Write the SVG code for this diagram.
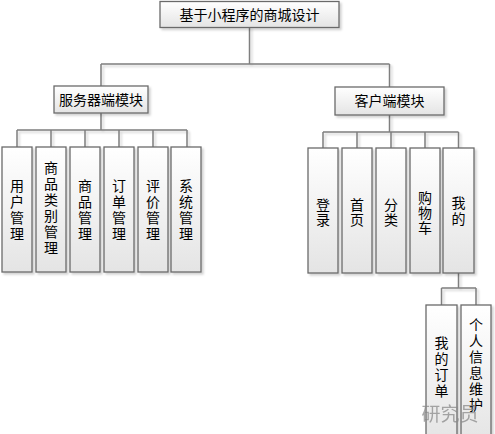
<svg xmlns="http://www.w3.org/2000/svg" width="495" height="434" viewBox="0 0 495 434">
<defs>
<linearGradient id="g" x1="0" y1="0" x2="0" y2="1">
<stop offset="0" stop-color="#ffffff"/>
<stop offset="1" stop-color="#e4e4e4"/>
</linearGradient>
<filter id="sh" x="-20%" y="-20%" width="150%" height="150%">
<feDropShadow dx="2" dy="2" stdDeviation="0.8" flood-color="#000" flood-opacity="0.18"/>
</filter>
</defs>
<style>
.box{fill:url(#g);stroke:#6a6a6a;stroke-width:1.3;filter:url(#sh)}
.ln{fill:none;stroke:#7f7f7f;stroke-width:1.5;filter:url(#sh)}
text{font-family:"Noto Sans CJK SC","Noto Sans CJK JP",sans-serif;font-size:14px;fill:#000;text-anchor:middle}
.v{writing-mode:vertical-rl;text-orientation:upright;letter-spacing:2px}
.vc{writing-mode:vertical-rl;text-orientation:upright;letter-spacing:1px}
.wm{font-size:19px;fill:#8a8a8a;opacity:0.75}
</style>
<rect width="495" height="434" fill="#ffffff"/>
<g id="connectors">
<path class="ln" d="M249.5 27V64M101 64H389.5M101 64V86M389.5 64V87"/>
<path class="ln" d="M101 113V130M17 130H187M17 130V147M51 130V147M85 130V147M119 130V147M153 130V147M187 130V147"/>
<path class="ln" d="M389.5 115V132M323 132H458.5M323 132V148M357 132V148M391 132V148M425 132V148M458.5 132V148"/>
<path class="ln" d="M458.5 273V288M441.5 288H476M441.5 288V305M476 288V305"/>
</g>
<g id="root"><rect class="box" x="160" y="1.5" width="179" height="26"/><text x="249.5" y="19.5">基于小程序的商城设计</text></g>
<g id="server"><rect class="box" x="54" y="86" width="94" height="27"/><text x="101" y="104.5">服务器端模块</text></g>
<g id="client"><rect class="box" x="335" y="87" width="109" height="28"/><text x="389.5" y="106">客户端模块</text></g>
<g id="s1"><rect class="box" x="2" y="147" width="30" height="125"/><text class="v" x="17" y="211">用户管理</text></g>
<g id="s2"><rect class="box" x="36" y="147" width="30" height="125"/><text class="v" x="51" y="209">商品类别管理</text></g>
<g id="s3"><rect class="box" x="70" y="147" width="30" height="125"/><text class="v" x="85" y="211">商品管理</text></g>
<g id="s4"><rect class="box" x="104" y="147" width="30" height="125"/><text class="v" x="119" y="211">订单管理</text></g>
<g id="s5"><rect class="box" x="138" y="147" width="30" height="125"/><text class="v" x="153" y="211">评价管理</text></g>
<g id="s6"><rect class="box" x="171" y="147" width="30" height="125"/><text class="v" x="186" y="211">系统管理</text></g>
<g id="c1"><rect class="box" x="308" y="148" width="30" height="125"/><text class="vc" x="323" y="213">登录</text></g>
<g id="c2"><rect class="box" x="342" y="148" width="30" height="125"/><text class="vc" x="357" y="213">首页</text></g>
<g id="c3"><rect class="box" x="376" y="148" width="30" height="125"/><text class="vc" x="391" y="213">分类</text></g>
<g id="c4"><rect class="box" x="410" y="148" width="30" height="125"/><text class="vc" x="425" y="213">购物车</text></g>
<g id="c5"><rect class="box" x="443" y="148" width="31" height="125"/><text class="v" x="458.5" y="212">我的</text></g>
<g id="m1"><rect class="box" x="426" y="305" width="31" height="140"/><text class="v" x="441.5" y="368">我的订单</text></g>
<g id="m2"><rect class="box" x="461" y="305" width="30" height="140"/><text class="v" x="476" y="366">个人信息维护</text></g>
<text class="wm" x="450" y="421">研究员</text>
</svg>
